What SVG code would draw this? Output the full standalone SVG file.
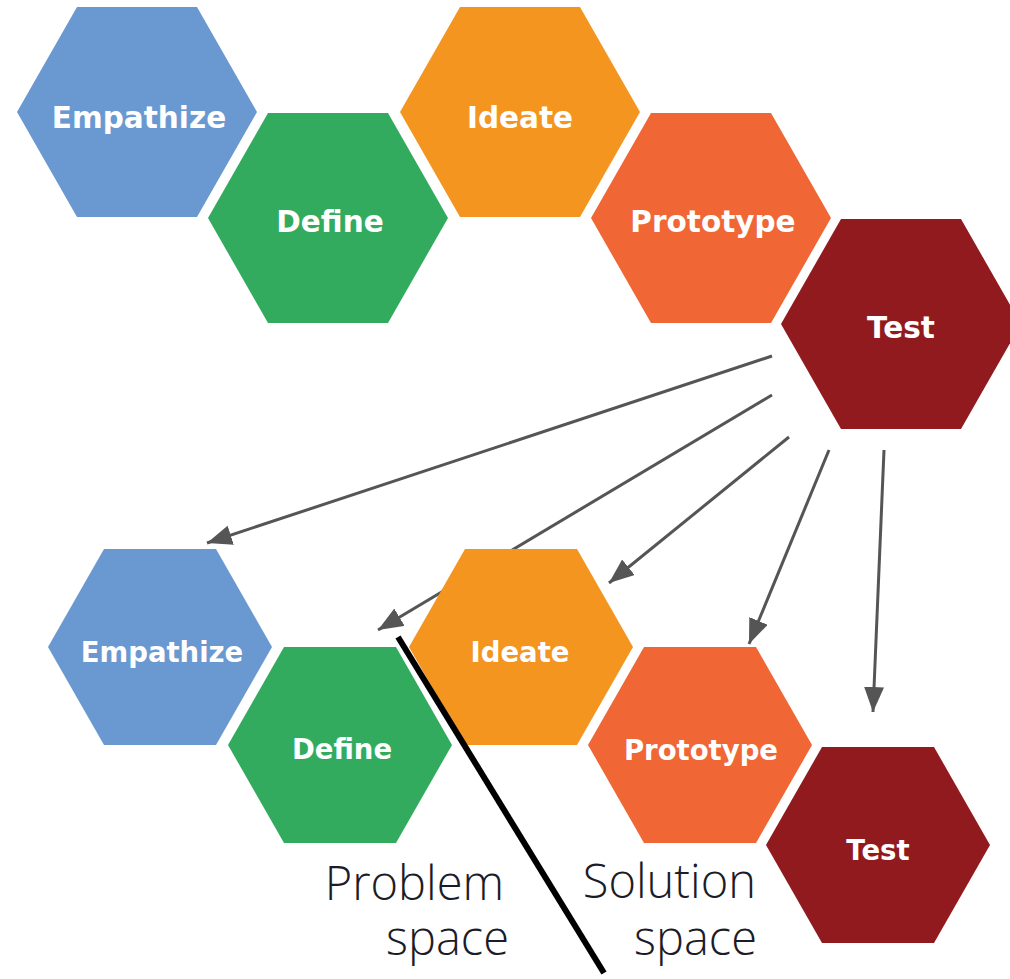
<svg xmlns="http://www.w3.org/2000/svg" width="1010" height="979" viewBox="0 0 1010 979">
<defs>
<marker id="ah" markerUnits="userSpaceOnUse" markerWidth="28" markerHeight="22" refX="25" refY="10" orient="auto">
<path d="M0,0 L25,10 L0,20 Z" fill="#555"/>
</marker>
</defs>
<style>
.lbl{font-family:"DejaVu Sans","Open Sans",sans-serif;font-weight:bold;fill:#fff;text-anchor:middle;}
.big{font-size:29.5px;}
.small{font-size:27.5px;}
.conn{stroke:#555;stroke-width:3;fill:none;marker-end:url(#ah);}
.space{font-family:"Open Sans",Lato,sans-serif;font-weight:300;font-size:47px;fill:#1c1c28;text-anchor:end;}
.emp{fill:#6A99D1;}
.def{fill:#33AB5E;}
.ide{fill:#F49520;}
.pro{fill:#F06635;}
.tst{fill:#911A1F;}
</style>
<rect width="1010" height="979" fill="#fff"/>
<g id="connectors">
<line class="conn" x1="772" y1="356" x2="207" y2="543"/>
<line class="conn" x1="772" y1="395" x2="378" y2="630"/>
<line class="conn" x1="789" y1="437" x2="609" y2="583"/>
<line class="conn" x1="829" y1="450" x2="749" y2="644"/>
<line class="conn" x1="884" y1="450" x2="873" y2="712"/>
</g>
<g id="top-empathize"><polygon class="emp" points="17,112 77,7 197,7 257,112 197,217 77,217"/><text class="lbl big" x="139" y="128">Empathize</text></g>
<g id="top-define"><polygon class="def" points="208,218 268,113 388,113 448,218 388,323 268,323"/><text class="lbl big" x="330" y="232">Define</text></g>
<g id="top-ideate"><polygon class="ide" points="400,112 460,7 580,7 640,112 580,217 460,217"/><text class="lbl big" x="520" y="128">Ideate</text></g>
<g id="top-prototype"><polygon class="pro" points="591,218 651,113 771,113 831,218 771,323 651,323"/><text class="lbl big" x="713" y="232">Prototype</text></g>
<g id="top-test"><polygon class="tst" points="781,324 841,219 961,219 1021,324 961,429 841,429"/><text class="lbl big" x="901" y="338">Test</text></g>
<g id="bottom-empathize"><polygon class="emp" points="48,647 104,549 216,549 272,647 216,745 104,745"/><text class="lbl small" x="162" y="662">Empathize</text></g>
<g id="bottom-define"><polygon class="def" points="228,745 284,647 396,647 452,745 396,843 284,843"/><text class="lbl small" x="342" y="759">Define</text></g>
<g id="bottom-ideate"><polygon class="ide" points="409,647 465,549 577,549 633,647 577,745 465,745"/><text class="lbl small" x="520" y="662">Ideate</text></g>
<g id="bottom-prototype"><polygon class="pro" points="588,745 644,647 756,647 812,745 756,843 644,843"/><text class="lbl small" x="701" y="760">Prototype</text></g>
<g id="bottom-test"><polygon class="tst" points="766,845 822,747 934,747 990,845 934,943 822,943"/><text class="lbl small" x="878" y="860">Test</text></g>
<g id="divider"><line x1="398" y1="637" x2="604" y2="973" stroke="#000" stroke-width="6"/></g>
<g id="problem-space"><text class="space" x="504" y="900">Problem</text><text class="space" x="509" y="955">space</text></g>
<g id="solution-space"><text class="space" x="756" y="898">Solution</text><text class="space" x="757" y="955">space</text></g>
</svg>
